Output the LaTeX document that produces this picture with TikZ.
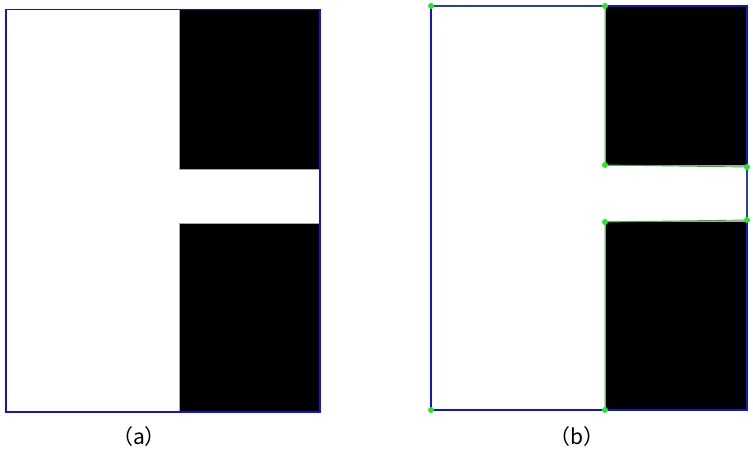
\documentclass[tikz,border=0pt]{standalone}
\usepackage{fontspec}
\newfontfamily\cjk{Noto Sans CJK SC}
\definecolor{frameblue}{RGB}{20,20,200}
\definecolor{dotgreen}{RGB}{40,230,40}
\definecolor{linegreen}{RGB}{60,170,60}
\begin{document}
\begin{tikzpicture}[x=1pt,y=-1pt,
  frame/.style={draw=frameblue,line width=1.3pt},
  blk/.style={fill=black,draw=gray!70,line width=0.6pt},
  contour/.style={draw=linegreen,line width=0.9pt},
  vtx/.style={circle,fill=dotgreen,inner sep=0pt,minimum size=6pt},
  lbl/.style={font=\cjk\fontsize{21}{24}\selectfont,inner sep=0pt}]
\useasboundingbox (0,0) rectangle (753,453);
\fill[white] (0,0) rectangle (753,453);
% panel (a)
\fill[blk] (179,9.5) rectangle (320,169);
\fill[blk] (179,223) rectangle (320,412);
\draw[frame] (6,9.5) rectangle (320,412);
\node[lbl] (la) at (139,437) {（a）};
% panel (b)
\fill[blk] (605,6) rectangle (747,165.5);
\fill[blk] (605,221.5) rectangle (747,410);
\draw[frame] (431,6) rectangle (747,410);
\coordinate (p1) at (431,6);
\coordinate (p2) at (605,6);
\coordinate (p3) at (605,165);
\coordinate (p4) at (747,167);
\coordinate (p5) at (747,220);
\coordinate (p6) at (605,222);
\coordinate (p7) at (605,410);
\coordinate (p8) at (431,410);
\draw[contour] (p1) -- (p2) -- (p3) -- (p4) -- (p5) -- (p6) -- (p7);
\foreach \p in {p1,p2,p3,p4,p5,p6,p7,p8} \node[vtx] at (\p) {};
\node[lbl] (lb) at (577,437) {（b）};
\end{tikzpicture}
\end{document}
